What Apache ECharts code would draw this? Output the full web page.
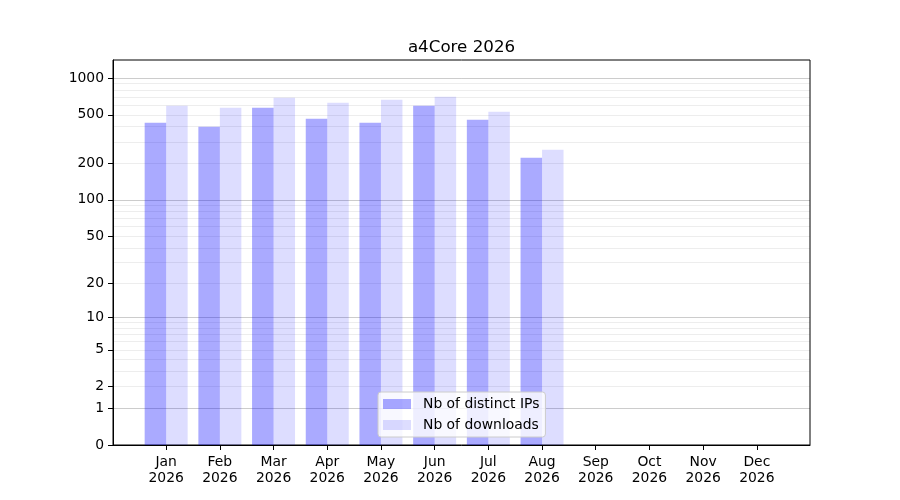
<!DOCTYPE html>
<html><head><meta charset="utf-8">
<script src="https://cdn.jsdelivr.net/npm/echarts@6/dist/echarts.min.js"></script>
<style>html,body{margin:0;padding:0;background:#fff}#c{width:900px;height:500px}</style>
</head><body><div id="c"></div>
<script>
const months = ['Jan','Feb','Mar','Apr','May','Jun','Jul','Aug','Sep','Oct','Nov','Dec'];
const year = '2026';
const distinctIPs = [431,399,572,465,431,594,456,222,0,0,0,0];
const downloads = [594,572,690,628,665,703,530,258,0,0,0,0];
const yTickValues = [0,1,2,5,10,20,50,100,200,500,1000];
const gridValues = [1,2,3,4,5,6,7,8,9,10,20,30,40,50,60,70,80,90,100,200,300,400,500,600,700,800,900,1000];

const f = v => Math.log10(1 + v);
const inv = t => Math.round(Math.pow(10, t) - 1);
const FONT = 'DejaVu Sans';
const isMajor = v => [1,10,100,1000].includes(v);
const gridColors = gridValues.map(v => isMajor(v) ? 'rgba(0,0,0,0.2)' : 'rgba(0,0,0,0.07)');
const xIdx = months.map((m, i) => i);

const chart = echarts.init(document.getElementById('c'));
chart.setOption({
  animation: false,
  backgroundColor: '#fff',
  title: {
    text: 'a4Core ' + year,
    left: 456.5, top: 34, textAlign: 'center',
    textStyle: {fontFamily: FONT, fontSize: 16.7, fontWeight: 'normal', color: '#000'}
  },
  grid: {left: 113, right: 90, top: 60, bottom: 55, show: true, borderColor: '#000', borderWidth: 1, containLabel: false},
  legend: {
    orient: 'vertical', left: 378, top: 392,
    padding: [5, 6, 5, 5],
    itemWidth: 28, itemHeight: 10, itemGap: 7,
    icon: 'rect',
    backgroundColor: 'rgba(255,255,255,0.8)', borderColor: '#cccccc', borderWidth: 1, borderRadius: 3,
    textStyle: {fontFamily: FONT, fontSize: 13.9, color: '#000', lineHeight: 14, padding: [0, 0, 0, 7]}
  },
  xAxis: {
    type: 'value', min: -0.99, max: 11.99,
    axisLine: {show: true, onZero: false, lineStyle: {color: '#000', width: 1}},
    axisTick: {show: true, length: 5, customValues: xIdx, lineStyle: {color: '#000'}},
    axisLabel: {customValues: xIdx, formatter: v => months[Math.round(v)] + '\n' + year,
      fontFamily: FONT, fontSize: 13.9, lineHeight: 16, color: '#000', margin: 9},
    splitLine: {show: false}
  },
  yAxis: [{
    type: 'value', min: 0, max: 3.148, position: 'left',
    axisLine: {show: true, onZero: false, lineStyle: {color: '#000', width: 1}},
    axisTick: {show: true, length: 5, customValues: yTickValues.map(f), lineStyle: {color: '#000'}},
    axisLabel: {customValues: yTickValues.map(f), formatter: v => String(inv(v)),
      fontFamily: FONT, fontSize: 13.9, color: '#000', margin: 9},
    splitLine: {show: false}
  }, {
    type: 'value', min: 0, max: 3.148, position: 'left',
    axisLine: {show: false, onZero: false}, axisLabel: {show: false},
    axisTick: {show: false, customValues: gridValues.map(f)},
    splitLine: {show: true, lineStyle: {color: gridColors, width: 1}}
  }],
  series: [{
    name: 'Nb of distinct IPs', type: 'bar', xAxisIndex: 0, yAxisIndex: 0,
    barWidth: 21.5, barGap: '0%',
    itemStyle: {color: 'rgba(0,0,255,0.333)'},
    data: distinctIPs.map((v, i) => [i, f(v)])
  }, {
    name: 'Nb of downloads', type: 'bar', xAxisIndex: 0, yAxisIndex: 0,
    barWidth: 21.5, barGap: '0%',
    itemStyle: {color: 'rgba(0,0,255,0.133)'},
    data: downloads.map((v, i) => [i, f(v)])
  }]
});
</script>
</body></html>
